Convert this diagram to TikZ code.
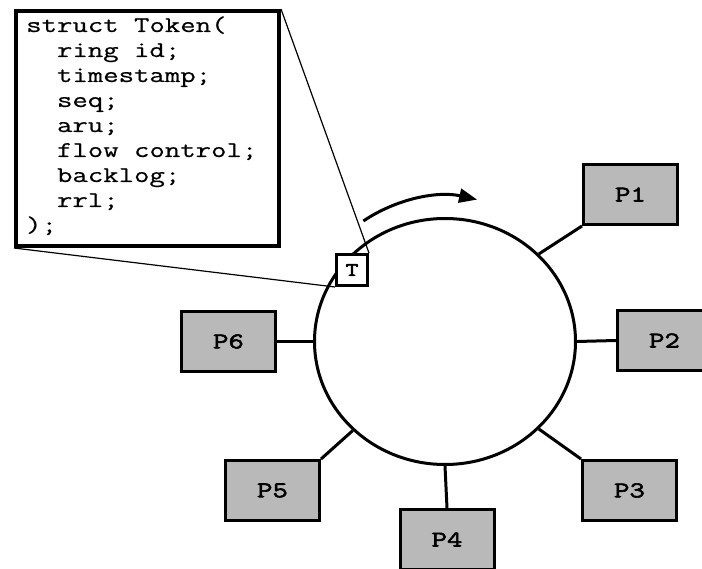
\documentclass[tikz,border=0pt]{standalone}
\usepackage{fontspec}
\usetikzlibrary{arrows.meta,shapes.geometric}
\newfontfamily\codefont[FakeStretch=1.33,FakeBold=0.5]{Latin Modern Mono}
\newfontfamily\labelfont[FakeStretch=1.33,FakeBold=2.5]{Latin Modern Mono}
\definecolor{boxgray}{RGB}{185,185,185}

\begin{document}
\begin{tikzpicture}[x=1pt,y=-1pt,
  proc/.style={draw, line width=3pt, fill=boxgray, minimum width=94pt,
    minimum height=60pt, inner sep=0pt,
    font=\labelfont\fontsize{22.5}{22.5}\selectfont},
  link/.style={line width=3pt},
  zoomline/.style={line width=1.2pt},
  codeline/.style={anchor=base west, inner sep=0pt,
    font=\codefont\fontsize{22.5}{22.5}\selectfont}]
\useasboundingbox (0,0) rectangle (702,569);
\clip (0,0) rectangle (702,569);

% the ring
\node[ellipse, draw, line width=3pt, minimum width=261pt, minimum height=246pt,
  inner sep=0pt] (ring) at (445,341.5) {};

% token structure listing
\node[draw, line width=4pt, fill=white, minimum width=263pt, minimum height=235pt,
  inner sep=0pt] (code) at (147.5,128.5) {};
\foreach \txt [count=\i from 0] in {{struct Token(},
    {\phantom{xx}ring id;}, {\phantom{xx}timestamp;}, {\phantom{xx}seq;},
    {\phantom{xx}aru;}, {\phantom{xx}flow control;}, {\phantom{xx}backlog;},
    {\phantom{xx}rrl;}, {);}}
  \node[codeline] (line\i) at (26,32+25*\i) {\txt};

% processors
\node[proc] (p1) at (630.5,194.5) {P1};
\node[proc] (p2) at (664.5,340.5) {P2};
\node[proc] (p3) at (629.5,490.5) {P3};
\node[proc] (p4) at (447,539.5) {P4};
\node[proc] (p5) at (272.5,490.5) {P5};
\node[proc] (p6) at (228.5,341.5) {P6};

% token on the ring
\node[draw, line width=3pt, fill=white, minimum size=31pt, inner sep=0pt,
  font=\labelfont\fontsize{19}{19}\selectfont] (token) at (352,270) {T};

% connections from the ring to the processors
\draw[link] (ring.43) -- (p1.south west);
\draw[link] (ring.east) -- (p2.west);
\draw[link] (ring.-43) -- (p3.north west);
\draw[link] (ring.south) -- (p4.north);
\draw[link] (ring.-136) -- (p5.north east);
\draw[link] (ring.west) -- (p6.east);

% lines from the listing to the token
\draw[zoomline] (code.north east) -- (token.north east);
\draw[zoomline] (code.south west) -- (token.south west);

% direction of token rotation
\coordinate (arcstart) at (363.4,221);
\draw[link, -{Triangle[length=18pt,width=14pt]}] (arcstart)
  arc[start angle=-124, end angle=-77.3, radius=146];
\end{tikzpicture}
\end{document}
